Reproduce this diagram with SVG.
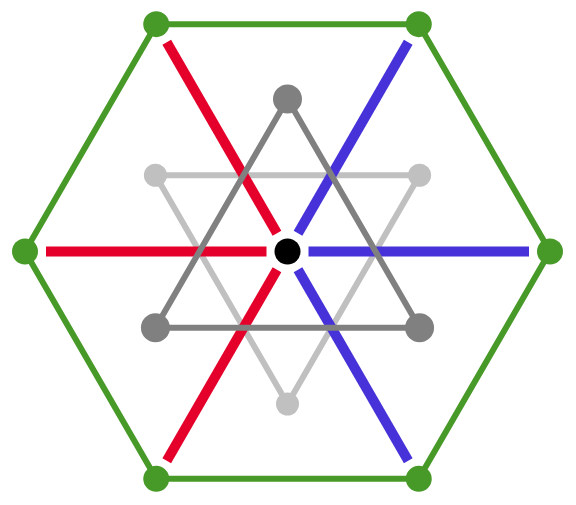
<svg xmlns="http://www.w3.org/2000/svg" width="576" height="505" viewBox="0 0 576 505">
<style>
.lt{fill:none;stroke:#c0c0c0;stroke-width:6;stroke-linejoin:round}
.dk{fill:none;stroke:#808080;stroke-width:6;stroke-linejoin:round}
.hex{fill:none;stroke:#489a28;stroke-width:6;stroke-linejoin:round}
.red{stroke:#e4002b;stroke-width:10;stroke-linecap:butt}
.blue{stroke:#4632d8;stroke-width:10;stroke-linecap:butt}
.gd{fill:#489a28}
.kd{fill:#808080}
.ld{fill:#c0c0c0}
</style>
<rect width="576" height="505" fill="#ffffff"/>
<g id="connectors">
<polygon class="lt" points="155.43,175.25 419.57,175.25 287.5,404"/>
<line class="red" x1="266.5" y1="251.5" x2="46" y2="251.5"/>
<line class="red" x1="277" y1="233.31" x2="166.75" y2="42.36"/>
<line class="red" x1="277" y1="269.69" x2="166.75" y2="460.64"/>
<line class="blue" x1="308.5" y1="251.5" x2="529" y2="251.5"/>
<line class="blue" x1="298" y1="233.31" x2="408.25" y2="42.36"/>
<line class="blue" x1="298" y1="269.69" x2="408.25" y2="460.64"/>
<polygon class="dk" points="287.5,99 155.43,327.75 419.57,327.75"/>
<polygon class="hex" points="550,251.5 418.75,24.17 156.25,24.17 25,251.5 156.25,478.83 418.75,478.83"/>
</g>
<g id="hex-nodes">
<circle id="h0" class="gd" cx="550" cy="251.5" r="13"/>
<circle id="h1" class="gd" cx="418.75" cy="24.17" r="13"/>
<circle id="h2" class="gd" cx="156.25" cy="24.17" r="13"/>
<circle id="h3" class="gd" cx="25" cy="251.5" r="13"/>
<circle id="h4" class="gd" cx="156.25" cy="478.83" r="13"/>
<circle id="h5" class="gd" cx="418.75" cy="478.83" r="13"/>
</g>
<g id="dark-nodes">
<circle id="d0" class="kd" cx="287.5" cy="99" r="14.5"/>
<circle id="d1" class="kd" cx="155.43" cy="327.75" r="14.5"/>
<circle id="d2" class="kd" cx="419.57" cy="327.75" r="14.5"/>
</g>
<g id="light-nodes">
<circle id="l0" class="ld" cx="155.43" cy="175.25" r="11.5"/>
<circle id="l1" class="ld" cx="419.57" cy="175.25" r="11.5"/>
<circle id="l2" class="ld" cx="287.5" cy="404" r="11.5"/>
</g>
<g id="center">
<circle cx="287.5" cy="251.5" r="13" fill="#000000"/>
</g>
</svg>
